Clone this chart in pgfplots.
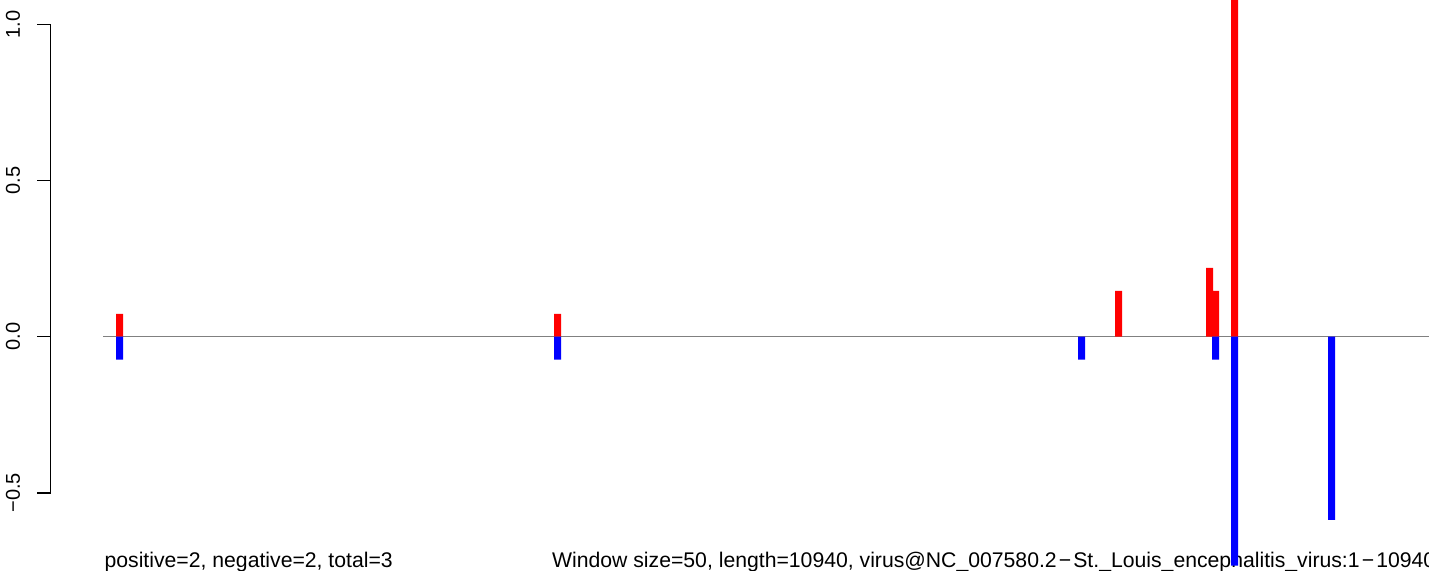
\documentclass[border=0pt]{standalone}
\usepackage{fontspec}
\setmainfont{Liberation Sans}
\usepackage{pgfplots}
\pgfplotsset{compat=1.18}
\begin{document}
\begin{tikzpicture}
\useasboundingbox (0,0) rectangle (714.5pt,285.5pt);
\node[anchor=base west, inner sep=0pt, font=\fontsize{10.6}{12}\selectfont] at (52.1pt,1.85pt) {positive=2, negative=2, total=3};
\node[anchor=base west, inner sep=0pt, font=\fontsize{10.6}{12}\selectfont] at (275.85pt,1.85pt) {Window size=50, length=10940, virus@NC\_007580.2\kern0.1em−\kern0.1em St.\_Louis\_encephalitis\_virus:1\kern0.1em−\kern0.1em 10940};
\begin{axis}[
  at={(25.35pt,0pt)}, anchor=south west,
  scale only axis, width=689.15pt, height=285.5pt,
  xmin=50.7, xmax=1429, ymin=-0.75, ymax=1.0778,
  axis line style={draw=none},
  xtick=\empty,
  ytick={-0.5,0,0.5,1},
  yticklabels={{−0.5},{0.0},{0.5},{1.0}},
  ytick pos=left,
  tick align=outside,
  major tick length=6.7pt,
  tick style={black, line width=0.65pt},
  yticklabel style={rotate=90, anchor=south, inner sep=0pt, font=\fontsize{10}{12}\selectfont},
  yticklabel shift=8.4pt,
  clip mode=individual,
]
\draw[black, line width=0.65pt] (axis cs:50.7,-0.5) -- (axis cs:50.7,1.0);
\addplot[gray, line width=0.6pt] coordinates {(103.3,0) (1429,0)};
\addplot[ybar, bar width=3.5pt, bar shift=0pt, draw=none, fill=red] coordinates {
  (119.5,0.0733) (557.5,0.0733) (1118.5,0.1466) (1209.5,0.22) (1215.5,0.1466) (1234.5,1.1)
};
\addplot[ybar, bar width=3.5pt, bar shift=0pt, draw=none, fill=blue] coordinates {
  (119.5,-0.0733) (557.5,-0.0733) (1081.5,-0.0733) (1215.5,-0.0733) (1234.5,-0.733) (1331.5,-0.5864)
};
\end{axis}
\end{tikzpicture}
\end{document}
